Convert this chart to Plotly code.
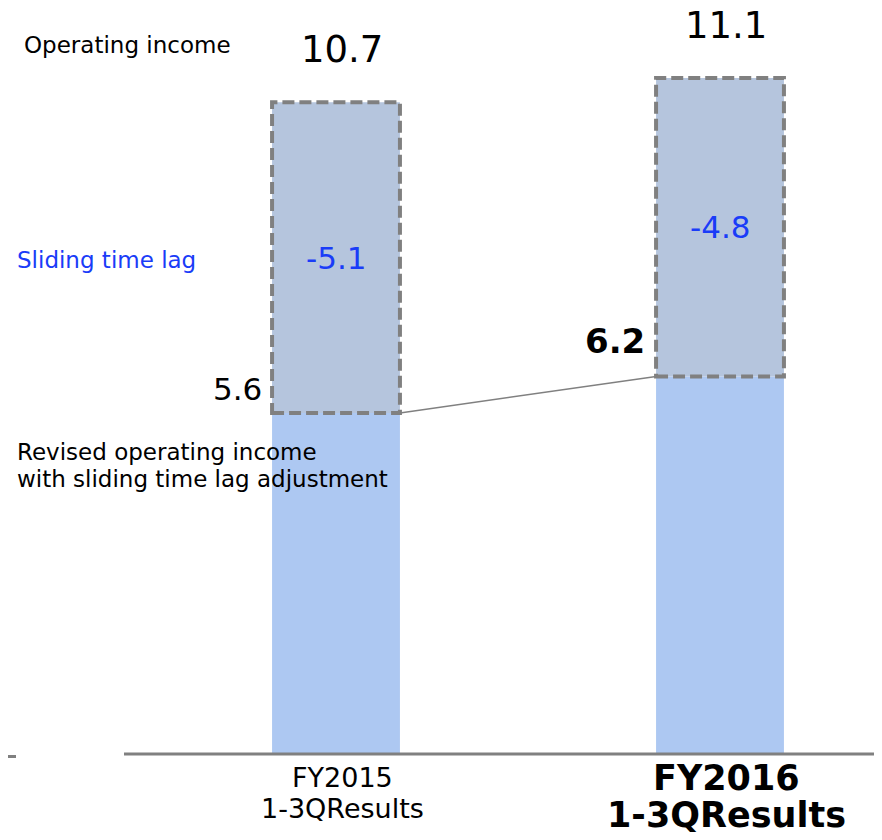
import plotly.graph_objects as go

categories = ["FY2015<br>1-3QResults", "FY2016<br>1-3QResults"]
operating_income = [10.7, 11.1]
revised_income = [5.6, 6.2]
sliding_lag = [-5.1, -4.8]

x_pos = [0, 1]
bar_w = 0.333
gap = [t - r for t, r in zip(operating_income, revised_income)]

FONT = "DejaVu Sans"
GRAY = "#808080"
BLUE = "#1a3cf8"
OFF = 8          # page body offset in px
PXU = 60.9       # px per unit on y
BASE = 754       # screen y of the zero line


def ys(sy):
    """screen y -> data y"""
    return (BASE - sy) / PXU


def xp(sx):
    """screen x -> paper x"""
    return (sx - OFF) / 882


fig = go.Figure()
fig.add_trace(go.Bar(x=x_pos, y=revised_income, width=bar_w,
                     marker=dict(color="#adc8f2", line=dict(width=0)),
                     hoverinfo="skip", showlegend=False))
fig.add_trace(go.Bar(x=x_pos, y=gap, base=revised_income, width=bar_w,
                     marker=dict(color="#b5c5dd", line=dict(width=0)),
                     hoverinfo="skip", showlegend=False))

for i, (r, t) in enumerate(zip(revised_income, operating_income)):
    xs = x_pos[i]
    fig.add_shape(type="rect", xref="x", yref="y",
                  x0=xs - bar_w / 2, x1=xs + bar_w / 2, y0=r, y1=t,
                  line=dict(color=GRAY, width=4, dash="12px,5px"),
                  fillcolor="rgba(0,0,0,0)", layer="above")

fig.add_trace(go.Scatter(x=[x_pos[0] + bar_w / 2, x_pos[1] - bar_w / 2],
                         y=[revised_income[0], revised_income[1]],
                         mode="lines", line=dict(color=GRAY, width=1.5),
                         hoverinfo="skip", showlegend=False))

fig.add_shape(type="line", xref="paper", yref="y", x0=xp(124), x1=1.0, y0=0, y1=0,
              line=dict(color=GRAY, width=3))
fig.add_shape(type="line", xref="paper", yref="y", x0=0, x1=xp(16), y0=ys(756.5), y1=ys(756.5),
              line=dict(color=GRAY, width=3))

ann = []
for i, t in enumerate(operating_income):
    ann.append(dict(x=x_pos[i], y=t, xref="x", yref="y", text=f"{t:.1f}",
                    showarrow=False, yanchor="bottom", xshift=6, yshift=35,
                    height=34, borderpad=0,
                    font=dict(family=FONT, size=37, color="#000000")))
for i, (r, t, s) in enumerate(zip(revised_income, operating_income, sliding_lag)):
    ann.append(dict(x=x_pos[i], y=(r + t) / 2, xref="x", yref="y", text=f"{s:.1f}",
                    showarrow=False, yanchor="middle",
                    font=dict(family=FONT, size=31, color=BLUE)))
ann.append(dict(x=x_pos[0] - bar_w / 2, y=revised_income[0], xref="x", yref="y",
                text=f"{revised_income[0]:.1f}", showarrow=False, xanchor="right",
                yanchor="middle", xshift=-8, yshift=24,
                font=dict(family=FONT, size=31, color="#000000")))
ann.append(dict(x=x_pos[1] - bar_w / 2, y=revised_income[1], xref="x", yref="y",
                text=f"<b>{revised_income[1]:.1f}</b>", showarrow=False, xanchor="right",
                yanchor="middle", xshift=-9, yshift=35,
                font=dict(family=FONT, size=34, color="#000000")))

ann.append(dict(x=xp(22), y=ys(45), xref="paper", yref="y",
                text="Operating income", showarrow=False, xanchor="left", yanchor="middle",
                font=dict(family=FONT, size=23, color="#000000")))
ann.append(dict(x=xp(15), y=ys(260), xref="paper", yref="y",
                text="Sliding time lag", showarrow=False, xanchor="left", yanchor="middle",
                font=dict(family=FONT, size=23, color=BLUE)))
for line_text, sy in zip(["Revised operating income", "with sliding time lag adjustment"], [452, 479]):
    ann.append(dict(x=xp(15), y=ys(sy), xref="paper", yref="y",
                    text=line_text, showarrow=False, xanchor="left", yanchor="middle",
                    font=dict(family=FONT, size=23, color="#000000")))

cat_lines = [c.split("<br>") for c in categories]
for line_text, sy in zip(cat_lines[0], [777, 808]):
    ann.append(dict(x=x_pos[0], y=ys(sy), xref="x", yref="y", text=line_text,
                    showarrow=False, yanchor="middle", xshift=6,
                    font=dict(family=FONT, size=27, color="#000000")))
for line_text, sy in zip(cat_lines[1], [778, 815]):
    ann.append(dict(x=x_pos[1], y=ys(sy), xref="x", yref="y", text=f"<b>{line_text}</b>",
                    showarrow=False, yanchor="middle", xshift=6,
                    font=dict(family=FONT, size=35, color="#000000")))

fig.update_layout(
    width=882, height=840,
    margin=dict(l=0, r=0, t=0, b=0),
    plot_bgcolor="white", paper_bgcolor="white",
    barmode="overlay",
    xaxis=dict(range=[-(336 - OFF) / 384, (882 - (336 - OFF)) / 384], visible=False),
    yaxis=dict(range=[ys(840 + OFF), ys(OFF)], visible=False),
    annotations=ann,
)

fig.write_html("out.html")
